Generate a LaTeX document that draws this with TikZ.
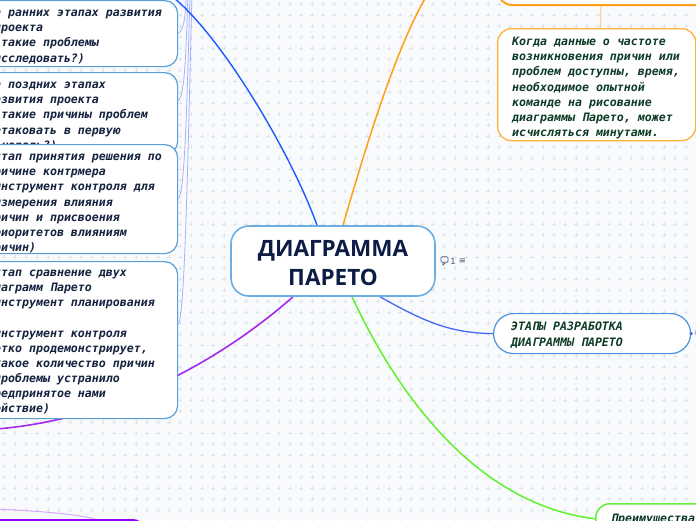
\documentclass[tikz,border=0pt]{standalone}
\usepackage{fontspec}
\usetikzlibrary{calc}
\newfontfamily\monobi{DejaVu Sans Mono Bold Oblique}
\newfontfamily\headf{Open Sans}
\newfontfamily\dvs{DejaVu Sans}
\definecolor{bgc}{HTML}{F9FAFC}
\definecolor{gridc}{HTML}{DFE4EC}
\definecolor{lboxc}{HTML}{5A9ED8}
\definecolor{cboxc}{HTML}{6AAEE4}
\definecolor{navyc}{HTML}{15223F}
\definecolor{headc}{HTML}{0C1C45}
\definecolor{greenc}{HTML}{0E3B26}
\definecolor{bluemain}{HTML}{1E5BFF}
\definecolor{bluesub}{HTML}{3F6CF5}
\definecolor{lavc}{HTML}{8EA0FF}
\definecolor{purplec}{HTML}{A428F0}
\definecolor{purplebox}{HTML}{9B00FF}
\definecolor{lpurple}{HTML}{D6A8FF}
\definecolor{orangec}{HTML}{FF9F1A}
\definecolor{orangebox}{HTML}{FFB03A}
\definecolor{lorange}{HTML}{FFC98A}
\definecolor{greenl}{HTML}{5FF22E}
\definecolor{greenbox}{HTML}{66F03A}
\definecolor{rbluebox}{HTML}{4A94DC}
\definecolor{iconc}{HTML}{4A5670}
\pgfdeclarelayer{bg}
\pgfsetlayers{bg,main}
\begin{document}
\begin{tikzpicture}[x=1pt,y=-1pt,
  lbox/.style={draw=lboxc, line width=1.2pt, rounded corners=13pt, fill=white, inner sep=0, anchor=north west, minimum width=217pt},
  ltxt/.style={anchor=north west, inner sep=0, align=left, text=navyc, font=\monobi\fontsize{11.6}{15.1}\selectfont},
  rtxt/.style={anchor=north west, inner sep=0, align=left, text=greenc, font=\monobi\fontsize{11.6}{15.1}\selectfont},
  lav/.style={draw=lavc, line width=0.8pt, opacity=0.8},
  icontxt/.style={inner sep=0, text=iconc, font=\dvs\fontsize{8.5}{9}\selectfont}
]
\useasboundingbox (0,0) rectangle (696,520);
\begin{pgfonlayer}{bg}
  \clip (0,0) rectangle (696,520);
  \fill[bgc] (0,0) rectangle (696,520);
  \draw[gridc, line width=0.6pt] \foreach \i in {0,...,63} {\foreach \j in {0,...,47} {(4+11*\i,4+11*\j) +(-1.6,0) -- +(1.6,0) +(0,-1.6) -- +(0,1.6)}};
\end{pgfonlayer}
\clip (0,0) rectangle (696,520);

% left boxes
\node[lbox, minimum height=66pt] (b1) at (-40,0) {};
\node[ltxt] (t1) at (-13,6.5) {\rule{0pt}{10pt}на ранних этапах развития\\\phantom{x}проекта\\\phantom{xx}такие проблемы\\\phantom{x}исследовать?)};
\node[lbox, minimum height=82pt] (b2) at (-40,72) {};
\node[ltxt] (t2) at (-13,78.5) {\rule{0pt}{10pt}на поздних этапах\\развития проекта\\\phantom{xx}такие причины проблем\\\phantom{x}атаковать в первую\\\phantom{x}очередь?)};
\node[lbox, minimum height=109pt] (b3) at (-40,144) {};
\node[ltxt] (t3) at (-13,150.5) {\rule{0pt}{10pt}\phantom{x}Этап принятия решения по\\причине контрмера\\(инструмент контроля для\\\phantom{x}измерения влияния\\причин и присвоения\\приоритетов влияниям\\причин)};
\node[lbox, minimum height=157pt] (b4) at (-40,261) {};
\node[ltxt] (t4) at (-13,266.5) {\rule{0pt}{10pt}\phantom{x}Этап сравнение двух\\диаграмм Парето\\(инструмент планирования\\\mbox{}\\\phantom{x}инструмент контроля\\четко продемонстрирует,\\\phantom{x}какое количество причин\\\phantom{x}проблемы устранило\\предпринятое нами\\действие)};
\node[draw=purplebox, line width=2.2pt, rounded corners=10pt, fill=white, inner sep=0, anchor=north west, minimum width=182pt, minimum height=40pt] (pb) at (-40,519) {};

% centre
\node[draw=cboxc, line width=1.6pt, rounded corners=18pt, fill=white, minimum width=204pt, minimum height=70pt, inner sep=0] (c) at (333,261) {};
\node[align=center, inner sep=0, text=headc, font=\headf\bfseries\fontsize{22.5}{29}\selectfont] (ct) at (333,263.5) {ДИАГРАММА\\ПАРЕТО};
\node[draw=iconc, line width=0.7pt, rounded corners=1pt, minimum width=7pt, minimum height=5.5pt, inner sep=0] (cm) at (444.5,259.5) {};
\draw[iconc, line width=0.7pt] ($(cm.south)+(-1.5,0)$) -- ($(cm.south)+(-1.5,2.5)$) -- ($(cm.south)+(1,0)$);
\node[icontxt] (cn) at (453,261) {1};
\node[icontxt] (cmenu) at (462.5,261) {≡};

% right side
\node[draw=orangec, line width=2pt, rounded corners=14pt, fill=white, inner sep=0, anchor=north west, minimum width=243pt, minimum height=44pt] (top) at (497,-40) {};
\node[draw=orangebox, line width=1.3pt, rounded corners=14pt, fill=white, inner sep=0, anchor=north west, minimum width=198pt, minimum height=112pt] (rb1) at (497,28) {};
\node[rtxt] (rt1) at (512,35.5) {\rule{0pt}{10pt}Когда данные о частоте\\возникновения причин или\\проблем доступны, время,\\необходимое опытной\\команде на рисование\\диаграммы Парето, может\\исчисляться минутами.};
\node[draw=rbluebox, line width=1.2pt, rounded corners=20pt, fill=white, inner sep=0, anchor=north west, minimum width=197pt, minimum height=40pt] (rb2) at (493,313) {};
\node[rtxt, font=\monobi\fontsize{11.6}{15.6}\selectfont] (rt2) at (511,320.5) {\rule{0pt}{10pt}ЭТАПЫ РАЗРАБОТКА\\ДИАГРАММЫ ПАРЕТО};
\fill[bluesub] (rb2.east) circle (1.8pt);
\node[icontxt, anchor=west] (rmenu) at ($(rb2.east)+(3,0)$) {≡};
\node[draw=greenbox, line width=1.5pt, rounded corners=14pt, fill=white, inner sep=0, anchor=north west, minimum width=150pt, minimum height=40pt] (rb3) at (595,503) {};
\node[rtxt] (rt3) at (611,512) {\rule{0pt}{10pt}Преимущества};

% connectors
\coordinate (tb) at (165,-9);
\coordinate (u1) at (186,-6);
\coordinate (u2) at (188,-6);
\coordinate (u3) at (190,-6);
\coordinate (u4) at (192,-6);
\coordinate (pe) at (-20,430);
\coordinate (lv) at (-5,509);
\coordinate (oe) at (430,-10);
\begin{pgfonlayer}{bg}
  \clip (0,0) rectangle (696,520);
  \draw[lav] (b1.east) .. controls (184,30) and (186,15) .. (u1);
  \draw[lav] ($(b2.east)+(0,-13)$) .. controls (185,96) and (186,50) .. (u2);
  \draw[lav] (b3.east) .. controls (185,194) and (187,100) .. (u3);
  \draw[lav] ($(b4.east)+(0,-16)$) .. controls (185,318) and (188,150) .. (u4);
  \draw[bluemain, line width=1.4pt] ($(c.north)+(-16,0)$) .. controls (290,150) and (215,25) .. (tb);
  \draw[orangec, line width=1.5pt] ($(c.north)+(10,0)$) .. controls (365,150) and (396,45) .. (oe);
  \draw[purplec, line width=1.6pt] ($(c.south)+(-40,0)$) .. controls (212,368) and (100,425) .. (pe);
  \draw[lpurple, line width=1pt] (lv) .. controls (40,511) and (75,514) .. ($(pb.north west)+(135,0)$);
  \draw[bluesub, line width=1.3pt] ($(c.south)+(47,0)$) .. controls (425,322) and (450,333) .. (rb2.west);
  \draw[greenl, line width=1.5pt] ($(c.south)+(19,0)$) .. controls (400,400) and (480,505) .. ($(rb3.west)+(0,-5)$);
  \draw[lorange, line width=1pt] ($(rb1.north)+(4,0)$) -- ($(top.south)+(-18.5,0)$);
\end{pgfonlayer}
\end{tikzpicture}
\end{document}
